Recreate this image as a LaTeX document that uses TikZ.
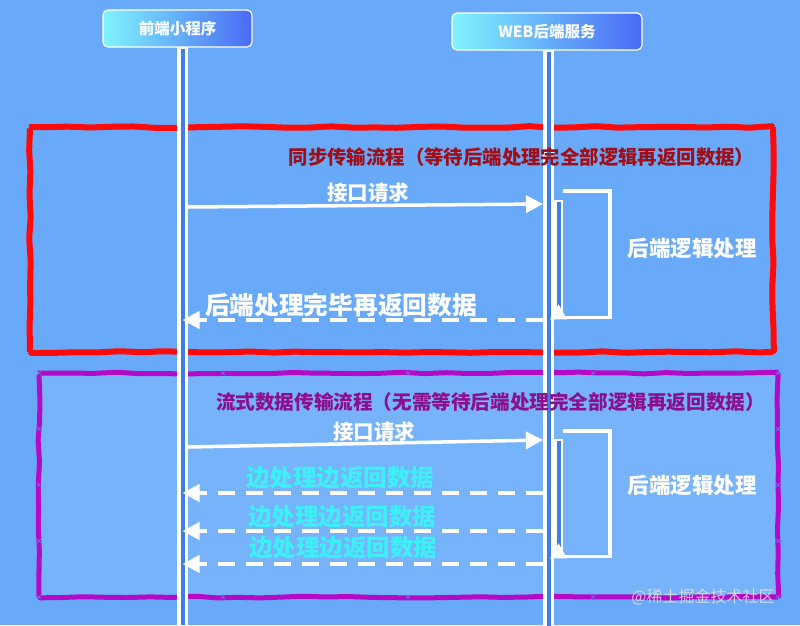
\documentclass[tikz,border=0pt]{standalone}
\usepackage{fontspec}
\setmainfont{Noto Sans CJK SC}
\usetikzlibrary{arrows.meta,decorations.pathmorphing}
\definecolor{bg}{HTML}{69A9F9}
\definecolor{pfill}{HTML}{76B3FB}
\definecolor{lifeblue}{HTML}{3F7EE6}
\definecolor{hdleft}{HTML}{80F4FF}
\definecolor{hdright}{HTML}{4A6AF6}
\definecolor{redline}{HTML}{FF0A0A}
\definecolor{purpleline}{HTML}{B40AC8}
\definecolor{titlered}{HTML}{A00E18}
\definecolor{titlepurple}{HTML}{8C108E}
\definecolor{cyantext}{HTML}{3CF0F6}
\definecolor{handle}{HTML}{5C7CF0}
\tikzset{
  header/.style={draw=white, line width=1.2pt, rounded corners=5pt,
    left color=hdleft, right color=hdright, text=white,
    font=\fontsize{15.5}{18}\selectfont\bfseries, inner sep=0pt},
  lifebox/.style={draw=white, line width=3.5pt, fill=lifeblue,
    minimum width=7.5pt, inner sep=0pt},
  actbar/.style={draw=white, line width=2.5pt, fill=lifeblue,
    minimum width=6.5pt, inner sep=0pt},
  loopline/.style={draw=white, line width=3.5pt},
  reqarrow/.style={draw=white, line width=3.5pt,
    -{Triangle[length=17pt 0 0,width=17pt 0 0]}},
  retarrow/.style={draw=white, line width=4pt, dash pattern=on 17pt off 11pt,
    -{Triangle[length=17pt 0 0,width=17pt 0 0]}},
  whitelabel/.style={text=white, inner sep=0pt, font=\bfseries},
  cyanlabel/.style={text=cyantext, inner sep=0pt,
    font=\fontsize{23.5}{26}\selectfont\bfseries},
  wavy/.style={decorate, decoration={random steps, segment length=22pt, amplitude=0.9pt},
    rounded corners=1.5pt},
  handlemark/.style={draw=handle, line width=0.6pt}
}
\begin{document}
\begin{tikzpicture}[x=1pt,y=-1pt]
\fill[bg] (0,0) rectangle (800,625);
\useasboundingbox (0,0) rectangle (800,625);

% group boxes
\draw[redline, line width=6pt, wavy] (30,127) rectangle (773,352);
\fill[pfill] (39,373) rectangle (778,597);
\draw[purpleline, line width=5pt, wavy] (39,373) rectangle (778,597);
\foreach \hx in {39,223,408,593,778} {
  \foreach \hy in {373,597} {
    \draw[handlemark] (\hx-2,\hy-2) -- (\hx+2,\hy+2) (\hx-2,\hy+2) -- (\hx+2,\hy-2);
  }
}
\foreach \hy in {429,485,541} {
  \foreach \hx in {39,778} {
    \draw[handlemark] (\hx-2,\hy-2) -- (\hx+2,\hy+2) (\hx-2,\hy+2) -- (\hx+2,\hy-2);
  }
}

% lifelines
\node[lifebox, minimum height=580pt] (feL) at (182.5,337) {};
\node[lifebox, minimum height=580pt] (beL) at (548.5,340) {};

% headers
\node[header, minimum width=149pt, minimum height=37pt] (fe) at (177.5,28.5) {前端小程序};
\node[header, minimum width=190pt, minimum height=37pt] (be) at (547,31.5) {WEB后端服务};

% titles
\node[text=titlered, inner sep=0pt, font=\fontsize{19.4}{22}\selectfont\bfseries] (t1) at (521.5,157) {同步传输流程（等待后端处理完全部逻辑再返回数据）};
\node[text=titlepurple, inner sep=0pt, font=\fontsize{19.6}{22}\selectfont\bfseries] (t2) at (490.5,402) {流式数据传输流程（无需等待后端处理完全部逻辑再返回数据）};

% ---- synchronous flow ----
\node[actbar, minimum height=114pt] (act1) at (558.5,258) {};
\fill[white] ([xshift=-8.5pt,yshift=-3pt]act1.south) -- ([xshift=8.5pt,yshift=-3pt]act1.south) -- ([yshift=12pt]act1.south) -- cycle;
\draw[loopline] ([yshift=9pt]act1.north east) -- ++(47,0) |- ([yshift=-1pt]act1.south east);
\draw[reqarrow] (feL.east |- 0,207) -- (beL.west |- 0,204);
\draw[retarrow] (beL.west |- 0,320) -- (feL.center |- 0,320);
\node[whitelabel, font=\fontsize{20.5}{24}\selectfont\bfseries] (l1) at (368,193) {接口请求};
\node[whitelabel, font=\fontsize{21.5}{24}\selectfont\bfseries] (l2) at (692,248) {后端逻辑处理};
\node[whitelabel, font=\fontsize{24.7}{28}\selectfont\bfseries] (l3) at (341,305) {后端处理完毕再返回数据};

% ---- streaming flow ----
\node[actbar, minimum height=114pt] (act2) at (558.5,497) {};
\fill[white] ([xshift=-8.5pt,yshift=-3pt]act2.south) -- ([xshift=8.5pt,yshift=-3pt]act2.south) -- ([yshift=12pt]act2.south) -- cycle;
\draw[loopline] ([yshift=8pt]act2.north east) -- ++(47,0) |- ([yshift=-1pt]act2.south east);
\draw[reqarrow] (feL.east |- 0,447) -- (beL.west |- 0,440);
\draw[retarrow] (beL.west |- 0,493) -- (feL.center |- 0,493);
\draw[retarrow] (beL.west |- 0,531) -- (feL.center |- 0,531);
\draw[retarrow] (beL.west |- 0,564) -- (feL.center |- 0,564);
\node[whitelabel, font=\fontsize{20.5}{24}\selectfont\bfseries] (l4) at (374,432) {接口请求};
\node[whitelabel, font=\fontsize{21.5}{24}\selectfont\bfseries] (l5) at (692,485) {后端逻辑处理};
\node[cyanlabel] (c1) at (340,478) {边处理边返回数据};
\node[cyanlabel] (c2) at (342,517) {边处理边返回数据};
\node[cyanlabel] (c3) at (343,548) {边处理边返回数据};

% watermark
\node[text=white!80!gray, opacity=0.8, inner sep=0pt, font=\fontsize{16}{18}\selectfont] (wm) at (703,597) {@稀土掘金技术社区};
\end{tikzpicture}
\end{document}
